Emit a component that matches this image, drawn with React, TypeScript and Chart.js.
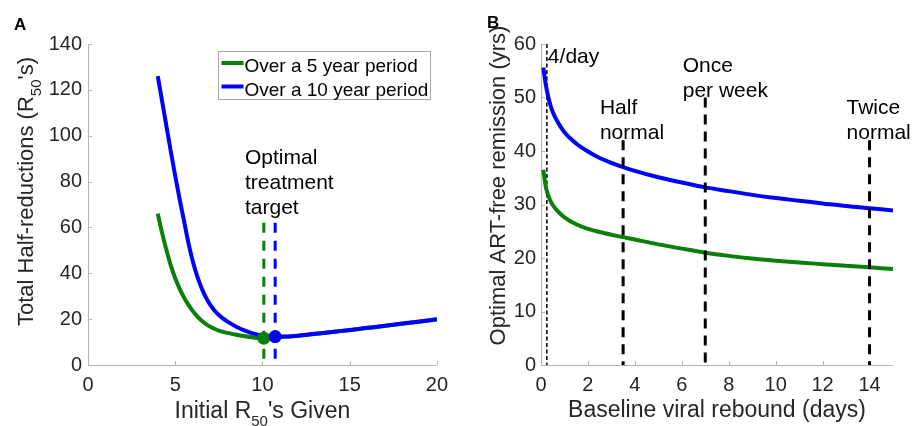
import React, { useEffect, useRef } from "react";
import { Chart, registerables } from "chart.js";

Chart.register(...registerables);

const FONT = '"Liberation Sans", Arial, Helvetica, sans-serif';
const GREEN = "#0a7f0a";
const BLUE = "#0000ff";
const AXIS = "#b4b4b4";
const TEXT = "#262626";

// ---------------- Panel A data ----------------
const seriesLabels = ["Over a 5 year period", "Over a 10 year period"];
const initialR50 = [4, 4.25, 4.5, 4.75, 5, 5.25, 5.5, 5.75, 6, 6.25, 6.5, 6.75, 7, 7.25, 7.5, 7.75, 8, 8.5, 9, 9.5, 10, 10.5, 11, 12, 13, 14, 15, 16, 17, 18, 19, 20];
const totalHalf5yr = [66, 57.5, 50, 43.3, 37.8, 33.3, 29.5, 26.3, 23.6, 21.3, 19.4, 17.9, 16.7, 15.8, 15.0, 14.45, 14.0, 13.2, 12.5, 12.0, 11.7, 11.8, 12.1, 12.7, 13.5, 14.4, 15.2, 16.1, 17.0, 18.0, 18.9, 19.9];
const totalHalf10yr = [126, 115, 104, 93, 82.5, 72.5, 63, 53.5, 45.5, 39, 33.8, 29.6, 26.3, 23.8, 21.8, 20.2, 18.9, 16.7, 15.0, 13.7, 12.9, 12.5, 12.4, 12.8, 13.6, 14.4, 15.3, 16.2, 17.1, 18.1, 19.0, 20];
const optimalR50 = [10.08, 10.73]; // 5 yr, 10 yr
const optimalTotal = [11.7, 12.4];
const targetLineTop = 62;
const xTicksA = [0, 5, 10, 15, 20];
const yTicksA = [0, 20, 40, 60, 80, 100, 120, 140];

// ---------------- Panel B data ----------------
const reboundDays = [0.1, 0.2, 0.3, 0.4, 0.5, 0.7, 1, 1.5, 2, 2.5, 3, 3.5, 4, 5, 6, 7, 8, 9, 10, 11, 12, 13, 14, 15];
const remission5yr = [36.5, 33.4, 31.8, 30.7, 29.9, 28.8, 27.6, 26.3, 25.45, 24.85, 24.35, 23.9, 23.45, 22.55, 21.75, 21.0, 20.4, 19.9, 19.5, 19.15, 18.85, 18.55, 18.25, 17.95];
const remission10yr = [55.6, 52.5, 50.3, 48.6, 47.3, 45.5, 43.5, 41.4, 39.9, 38.7, 37.8, 37.0, 36.3, 35.1, 34.1, 33.2, 32.5, 31.8, 31.2, 30.7, 30.2, 29.7, 29.3, 28.9];
const markerDays = [0.25, 3.5, 7, 14];
const markerTops = [60, 42, 50, 42];
const markerNames = [["4/day"], ["Half", "normal"], ["Once", "per week"], ["Twice", "normal"]];
const xTicksB = [0, 2, 4, 6, 8, 10, 12, 14];
const yTicksB = [0, 10, 20, 30, 40, 50, 60];

type Part = { t: string; sub?: boolean };
type Note = { lines: string[]; x: number; y: number; dx?: number };
type OverlayCfg = {
  panel: string;
  panelX: number;
  panelY: number;
  xTitle: Part[];
  xTitleBaseline: number;
  yTitle: Part[];
  yTitleBaseline: number;
  yTitleCenter: number;
  notes: Note[];
  noteFont: number;
  noteLineH: number;
  legend?: { labels: string[]; rightInset: number; top: number; width: number };
};

const X_TITLE_SIZE = 23;
const Y_TITLE_SIZE = 22;
const SUB_SIZE = 15;
const SUB_DROP = 8;

function richWidth(ctx: CanvasRenderingContext2D, parts: Part[], size: number) {
  let w = 0;
  for (const p of parts) {
    ctx.font = `${p.sub ? SUB_SIZE : size}px ${FONT}`;
    w += ctx.measureText(p.t).width;
  }
  return w;
}

function drawRich(ctx: CanvasRenderingContext2D, parts: Part[], x: number, y: number, size: number) {
  let cx = x;
  for (const p of parts) {
    ctx.font = `${p.sub ? SUB_SIZE : size}px ${FONT}`;
    ctx.fillText(p.t, cx, p.sub ? y + SUB_DROP : y);
    cx += ctx.measureText(p.t).width;
  }
}

function makeOverlay(cfg: OverlayCfg) {
  return {
    id: "overlay",
    beforeDatasetsDraw(chart: any) {
      const ctx: CanvasRenderingContext2D = chart.ctx;
      const { left, right, top, bottom } = chart.chartArea;
      const xs = chart.scales.x;
      const ys = chart.scales.y;
      ctx.save();
      ctx.strokeStyle = AXIS;
      ctx.lineWidth = 1;
      ctx.beginPath();
      ctx.moveTo(left + 0.5, top);
      ctx.lineTo(left + 0.5, bottom + 0.5);
      ctx.lineTo(right, bottom + 0.5);
      for (const t of xs.ticks) {
        const px = Math.round(xs.getPixelForValue(t.value)) + 0.5;
        ctx.moveTo(px, bottom);
        ctx.lineTo(px, bottom - 4);
      }
      for (const t of ys.ticks) {
        const py = Math.round(ys.getPixelForValue(t.value)) + 0.5;
        ctx.moveTo(left, py);
        ctx.lineTo(left + 4, py);
      }
      ctx.stroke();
      ctx.restore();
    },
    afterDraw(chart: any) {
      const ctx: CanvasRenderingContext2D = chart.ctx;
      const { left, right } = chart.chartArea;
      const xs = chart.scales.x;
      const ys = chart.scales.y;
      ctx.save();
      ctx.textAlign = "left";
      ctx.textBaseline = "alphabetic";
      // panel letter
      ctx.fillStyle = "#000";
      ctx.font = `bold 17px ${FONT}`;
      ctx.fillText(cfg.panel, cfg.panelX, cfg.panelY);
      // x title
      ctx.fillStyle = TEXT;
      const wx = richWidth(ctx, cfg.xTitle, X_TITLE_SIZE);
      drawRich(ctx, cfg.xTitle, (left + right) / 2 - wx / 2, cfg.xTitleBaseline, X_TITLE_SIZE);
      // y title
      const wy = richWidth(ctx, cfg.yTitle, Y_TITLE_SIZE);
      ctx.save();
      ctx.translate(cfg.yTitleBaseline, cfg.yTitleCenter);
      ctx.rotate(-Math.PI / 2);
      drawRich(ctx, cfg.yTitle, -wy / 2, 0, Y_TITLE_SIZE);
      ctx.restore();
      // notes
      ctx.fillStyle = "#000";
      ctx.font = `${cfg.noteFont}px ${FONT}`;
      for (const n of cfg.notes) {
        const px = xs.getPixelForValue(n.x) + (n.dx || 0);
        const py = ys.getPixelForValue(n.y);
        n.lines.forEach((l, i) => ctx.fillText(l, px, py + i * cfg.noteLineH));
      }
      // legend
      if (cfg.legend) {
        const lg = cfg.legend;
        const items = lg.labels.map((lab) => chart.data.datasets.find((d: any) => d.label === lab));
        ctx.font = `19px ${FONT}`;
        const boxW = lg.width;
        const boxH = 48;
        const bx = Math.round(right - lg.rightInset - boxW) + 0.5;
        const by = lg.top + 0.5;
        ctx.fillStyle = "#fff";
        ctx.fillRect(bx, by, boxW, boxH);
        ctx.strokeStyle = "#a8a8a8";
        ctx.lineWidth = 1;
        ctx.strokeRect(bx, by, boxW, boxH);
        items.forEach((it: any, i: number) => {
          const ly = by + 11.5 + i * 23.5;
          ctx.strokeStyle = it.borderColor;
          ctx.lineWidth = 4;
          ctx.beginPath();
          ctx.moveTo(bx + 3, ly);
          ctx.lineTo(bx + 25, ly);
          ctx.stroke();
          ctx.fillStyle = "#000";
          ctx.fillText(it.label, bx + 26, ly + 9);
        });
      }
      ctx.restore();
    },
  };
}

const xy = (xs: number[], ys: number[]) => xs.map((x, i) => ({ x, y: ys[i] }));

function axisOpts(ticksList: number[], min: number, max: number, fitKey: "width" | "height", fitVal: number, pad: number) {
  return {
    type: "linear" as const,
    min,
    max,
    grid: { display: false, drawTicks: false },
    border: { display: false },
    afterBuildTicks: (s: any) => {
      s.ticks = ticksList.map((v) => ({ value: v }));
    },
    afterFit: (s: any) => {
      s[fitKey] = fitVal;
    },
    ticks: {
      autoSkip: false,
      maxRotation: 0,
      padding: pad,
      color: TEXT,
      font: { size: 20, family: FONT },
      callback: (v: any) => String(v),
    },
  };
}

function buildA(canvas: HTMLCanvasElement) {
  const overlay = makeOverlay({
    panel: "A",
    panelX: 14,
    panelY: 30,
    xTitle: [{ t: "Initial R" }, { t: "50", sub: true }, { t: "'s Given" }],
    xTitleBaseline: 418,
    yTitle: [{ t: "Total Half-reductions (R" }, { t: "50", sub: true }, { t: "'s)" }],
    yTitleBaseline: 33,
    yTitleCenter: 191.5,
    notes: [{ lines: ["Optimal", "treatment", "target"], x: 9.0, y: 87.7 }],
    noteFont: 21,
    noteLineH: 25,
    legend: { labels: seriesLabels, rightInset: 7, top: 51, width: 212 },
  });
  return new Chart(canvas, {
    type: "line",
    data: {
      datasets: [
        {
          label: "optimum 10",
          data: [{ x: optimalR50[1], y: optimalTotal[1] }],
          showLine: false,
          pointRadius: 6.5,
          pointBackgroundColor: BLUE,
          pointBorderWidth: 0,
          borderColor: BLUE,
          order: 0,
        },
        {
          label: "optimum 5",
          data: [{ x: optimalR50[0], y: optimalTotal[0] }],
          showLine: false,
          pointRadius: 6.5,
          pointBackgroundColor: GREEN,
          pointBorderWidth: 0,
          borderColor: GREEN,
          order: 1,
        },
        {
          label: seriesLabels[1],
          data: xy(initialR50, totalHalf10yr),
          borderColor: BLUE,
          borderWidth: 4,
          pointRadius: 0,
          cubicInterpolationMode: "monotone",
          order: 2,
        },
        {
          label: seriesLabels[0],
          data: xy(initialR50, totalHalf5yr),
          borderColor: GREEN,
          borderWidth: 4,
          pointRadius: 0,
          cubicInterpolationMode: "monotone",
          order: 3,
        },
        {
          label: "target 5",
          data: [{ x: optimalR50[0], y: targetLineTop }, { x: optimalR50[0], y: 0 }],
          borderColor: GREEN,
          borderWidth: 3,
          borderDash: [10, 8],
          pointRadius: 0,
          order: 4,
        },
        {
          label: "target 10",
          data: [{ x: optimalR50[1], y: targetLineTop }, { x: optimalR50[1], y: 0 }],
          borderColor: BLUE,
          borderWidth: 3,
          borderDash: [10, 8],
          pointRadius: 0,
          order: 5,
        },
      ],
    },
    options: {
      animation: false,
      responsive: false,
      devicePixelRatio: 1,
      events: [],
      layout: { padding: { left: 0, top: 44, right: 15, bottom: 0 } },
      plugins: { legend: { display: false }, tooltip: { enabled: false } },
      scales: {
        x: axisOpts(xTicksA, 0, 20, "height", 61, 8),
        y: axisOpts(yTicksA, 0, 140, "width", 88, 6),
      },
    },
    plugins: [overlay],
  } as any);
}

function buildB(canvas: HTMLCanvasElement) {
  const notes: Note[] = [
    { lines: markerNames[0], x: markerDays[0], dx: 1, y: 56.4 },
    { lines: markerNames[1], x: markerDays[1] - 0.99, y: 46.9 },
    { lines: markerNames[2], x: markerDays[2] - 0.96, y: 54.8 },
    { lines: markerNames[3], x: markerDays[3] - 0.98, y: 46.9 },
  ];
  const overlay = makeOverlay({
    panel: "B",
    panelX: 31,
    panelY: 28,
    xTitle: [{ t: "Baseline viral rebound (days)" }],
    xTitleBaseline: 417,
    yTitle: [{ t: "Optimal ART-free remission (yrs)" }],
    yTitleBaseline: 49,
    yTitleCenter: 185.5,
    notes,
    noteFont: 21,
    noteLineH: 25,
  });
  const markerSets = markerDays.map((d, i) => ({
    label: "marker " + markerNames[i].join(" "),
    data: [{ x: d, y: markerTops[i] }, { x: d, y: 0 }],
    borderColor: "#000",
    borderWidth: i === 0 ? 1.5 : 3,
    borderDash: i === 0 ? [4, 2.5] : [10, 7],
    pointRadius: 0,
    order: i === 0 ? 5 : 0,
  }));
  return new Chart(canvas, {
    type: "line",
    data: {
      datasets: [
        {
          label: seriesLabels[1],
          data: xy(reboundDays, remission10yr),
          borderColor: BLUE,
          borderWidth: 4,
          pointRadius: 0,
          cubicInterpolationMode: "monotone",
          order: 1,
        },
        {
          label: seriesLabels[0],
          data: xy(reboundDays, remission5yr),
          borderColor: GREEN,
          borderWidth: 4,
          pointRadius: 0,
          cubicInterpolationMode: "monotone",
          order: 2,
        },
        ...markerSets,
      ],
    },
    options: {
      animation: false,
      responsive: false,
      devicePixelRatio: 1,
      events: [],
      layout: { padding: { left: 0, top: 44, right: 19, bottom: 0 } },
      plugins: { legend: { display: false }, tooltip: { enabled: false } },
      scales: {
        x: axisOpts(xTicksB, 0, 15, "height", 61, 8),
        y: axisOpts(yTicksB, 0, 60, "width", 85, 5),
      },
    },
    plugins: [overlay],
  } as any);
}

export default function App() {
  const refA = useRef<HTMLCanvasElement>(null);
  const refB = useRef<HTMLCanvasElement>(null);
  useEffect(() => {
    const a = buildA(refA.current!);
    const b = buildB(refB.current!);
    return () => {
      a.destroy();
      b.destroy();
    };
  }, []);
  return (
    <div style={{ position: "fixed", left: 0, top: 0, width: 912, height: 426, background: "#fff" }}>
      <canvas
        ref={refA}
        width={456}
        height={426}
        style={{ position: "absolute", left: 0, top: 0, width: 456, height: 426 }}
      />
      <canvas
        ref={refB}
        width={456}
        height={426}
        style={{ position: "absolute", left: 456, top: 0, width: 456, height: 426 }}
      />
    </div>
  );
}
